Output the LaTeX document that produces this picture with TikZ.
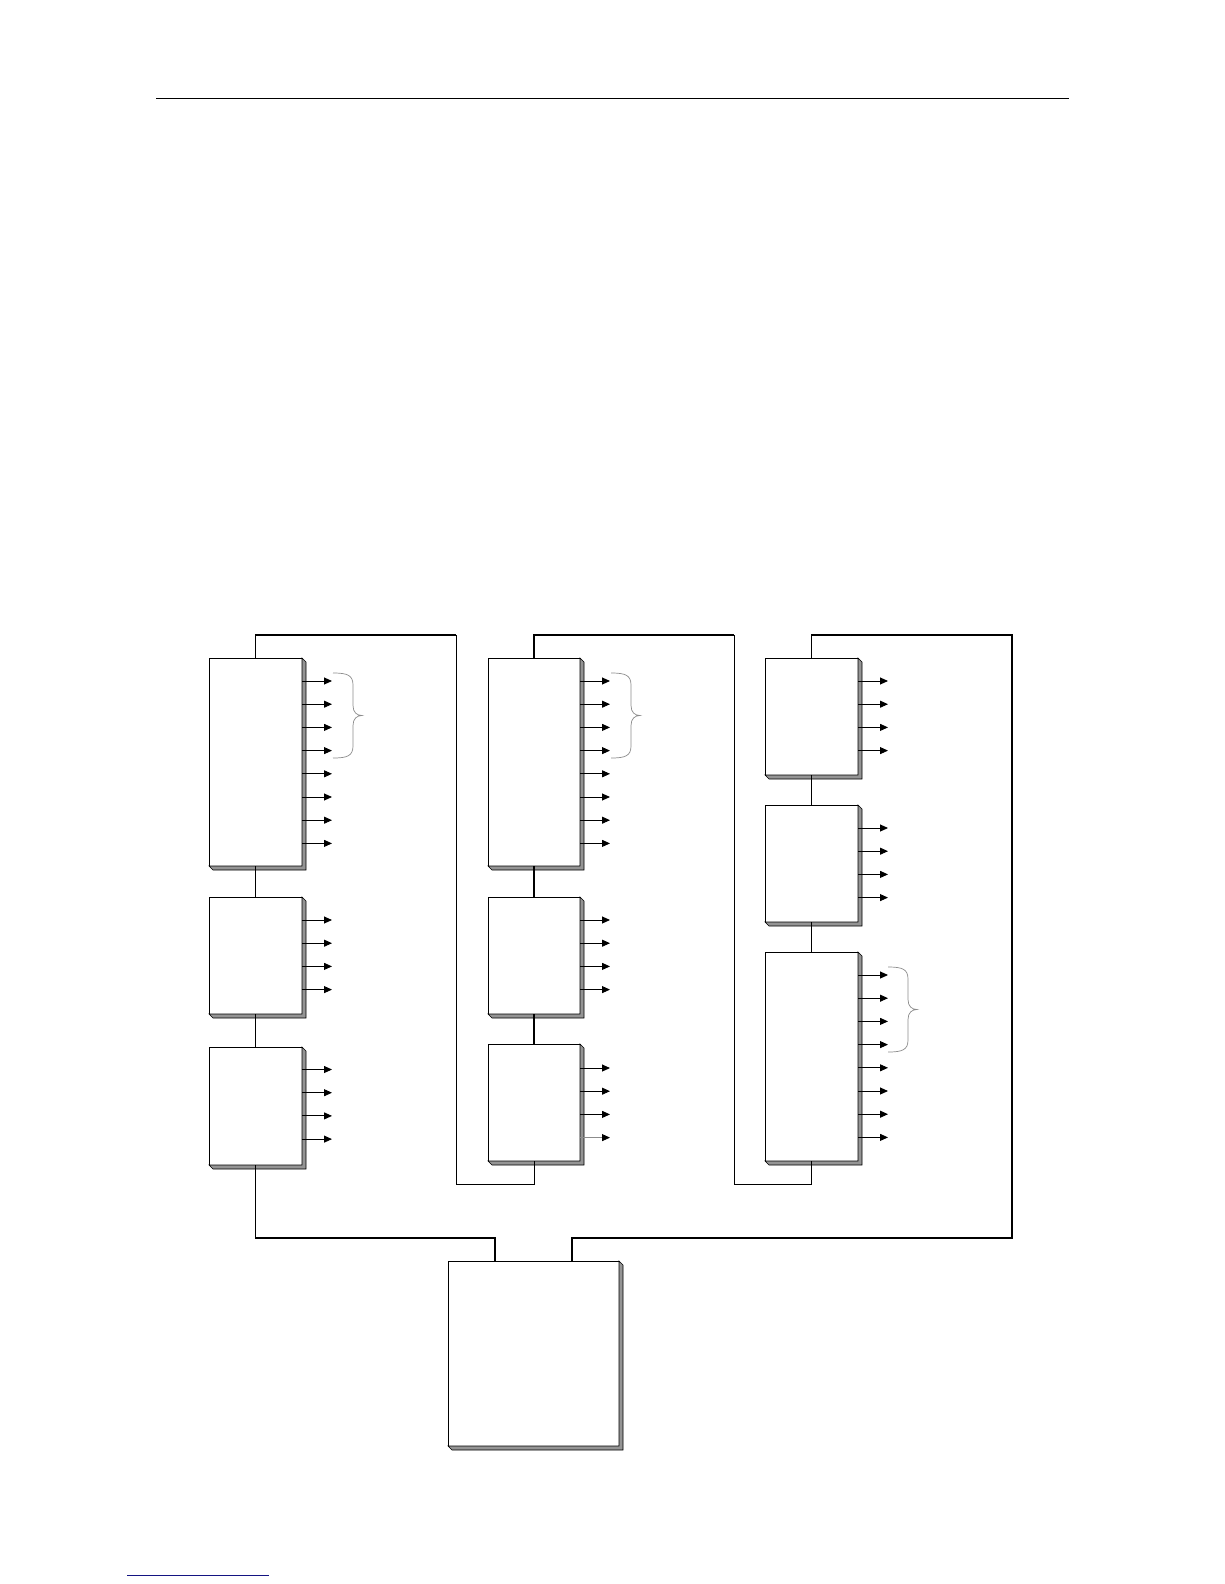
\documentclass[tikz,border=0pt]{standalone}
\usetikzlibrary{arrows.meta,calc}
\definecolor{navyline}{RGB}{20,20,130}
\tikzset{
  boxst/.style={draw=black, fill=white, line width=1pt, inner sep=0pt, outer sep=0pt, rectangle, anchor=north west},
  shadowst/.style={fill=black!42, draw=black, line width=0.6pt, line join=miter},
  thickline/.style={line width=1.8pt, line join=miter},
  thinline/.style={line width=1pt, line join=miter},
  midline/.style={line width=1.3pt},
  arr/.style={line width=0.9pt, -{Triangle[length=8pt,width=7pt]}},
  grayarr/.style={line width=0.9pt, draw=black!45, -{Triangle[length=8pt,width=7pt,black]}},
  bracest/.style={draw=black!45, line width=0.7pt},
}
\newcommand{\mkbox}[5]{%
  \node[boxst, minimum width={(#4-#2)*1pt}, minimum height={(#5-#3)*1pt}] (#1) at (#2,#3) {};
  \filldraw[shadowst] (#1.north east) -- ++(4,4) -- ($(#1.south east)+(4,4)$) -- ($(#1.south west)+(4,4)$) -- (#1.south west) -- (#1.south east) -- cycle;
}
\newcommand{\mkarrows}[3]{% name, offset, count
  \foreach \i in {1,...,#3} {
    \draw[arr] ($(#1.north east)+(0,{#2+23.2*(\i-1)})$) -- ++(30,0);
  }
}
\newcommand{\mkbrace}[3]{% x0, y0, y1
  \pgfmathsetmacro{\bym}{(#2+#3)/2}
  \draw[bracest] (#1,#2) .. controls ({#1+14},#2) and ({#1+20},{#2+2}) .. ({#1+20},{#2+12})
    -- ({#1+20},{\bym-10}) .. controls ({#1+20},{\bym-3}) and ({#1+24},\bym) .. ({#1+29},\bym)
    .. controls ({#1+24},\bym) and ({#1+20},{\bym+3}) .. ({#1+20},{\bym+10})
    -- ({#1+20},{#3-12}) .. controls ({#1+20},{#3-2}) and ({#1+14},#3) .. (#1,#3);
}
\begin{document}
\begin{tikzpicture}[x=1pt,y=-1pt]
\useasboundingbox[fill=white] (0,0) rectangle (1224,1584);

% header and footer lines
\draw[line width=1pt] (156,99) -- (1069,99);
\draw[line width=1pt, draw=navyline] (127,1575) -- (269,1575);

% boxes
\mkbox{A1}{209}{658}{302}{866}
\mkbox{A2}{209}{897}{302}{1014}
\mkbox{A3}{209}{1047}{302}{1165}
\mkbox{B1}{488}{658}{580}{866}
\mkbox{B2}{488}{897}{580}{1014}
\mkbox{B3}{488}{1044}{580}{1161}
\mkbox{C1}{765}{658}{858}{775}
\mkbox{C2}{765}{805}{858}{922}
\mkbox{C3}{765}{952}{858}{1161}
\mkbox{D}{448}{1261}{619}{1446}

% output arrows
\mkarrows{A1}{23}{8}
\mkarrows{A2}{23}{4}
\mkarrows{A3}{22.5}{4}
\mkarrows{B1}{23}{8}
\mkarrows{B2}{23}{4}
\mkarrows{B3}{24}{3}
\draw[grayarr] ($(B3.north east)+(0,{24+23.2*3})$) -- ++(30,0);
\mkarrows{C1}{23}{4}
\mkarrows{C2}{23}{4}
\mkarrows{C3}{23}{8}

% braces
\mkbrace{333}{673}{758}
\mkbrace{611}{673}{758}
\mkbrace{888}{967}{1052}

% vertical links between stacked boxes
\draw[midline] (A1.south) -- (A2.north);
\draw[midline] (A2.south) -- (A3.north);
\draw[midline] (B1.south) -- (B2.north);
\draw[midline] (B2.south) -- (B3.north);
\draw[midline] (C1.south) -- (C2.north);
\draw[midline] (C2.south) -- (C3.north);

% routing coordinates
\coordinate (ra) at (456,635);
\coordinate (rb) at (734,635);
\coordinate (rc) at (1012,635);
\coordinate (Dp1) at ($(D.north west)+(47,0)$);
\coordinate (Dp2) at ($(D.north west)+(124,0)$);

% column links
\draw[thickline] (A1.north) |- (ra);
\draw[thinline] (ra) -- (456,1184) -| (B3.south);
\draw[thickline] (B1.north) |- (rb);
\draw[thinline] (rb) -- (734,1184) -| (C3.south);
\draw[thickline] (C1.north) |- (rc) |- ($(Dp2)+(0,-23)$) -- (Dp2);
\draw[thickline] (A3.south) |- ($(Dp1)+(0,-23)$) -- (Dp1);
\end{tikzpicture}
\end{document}
